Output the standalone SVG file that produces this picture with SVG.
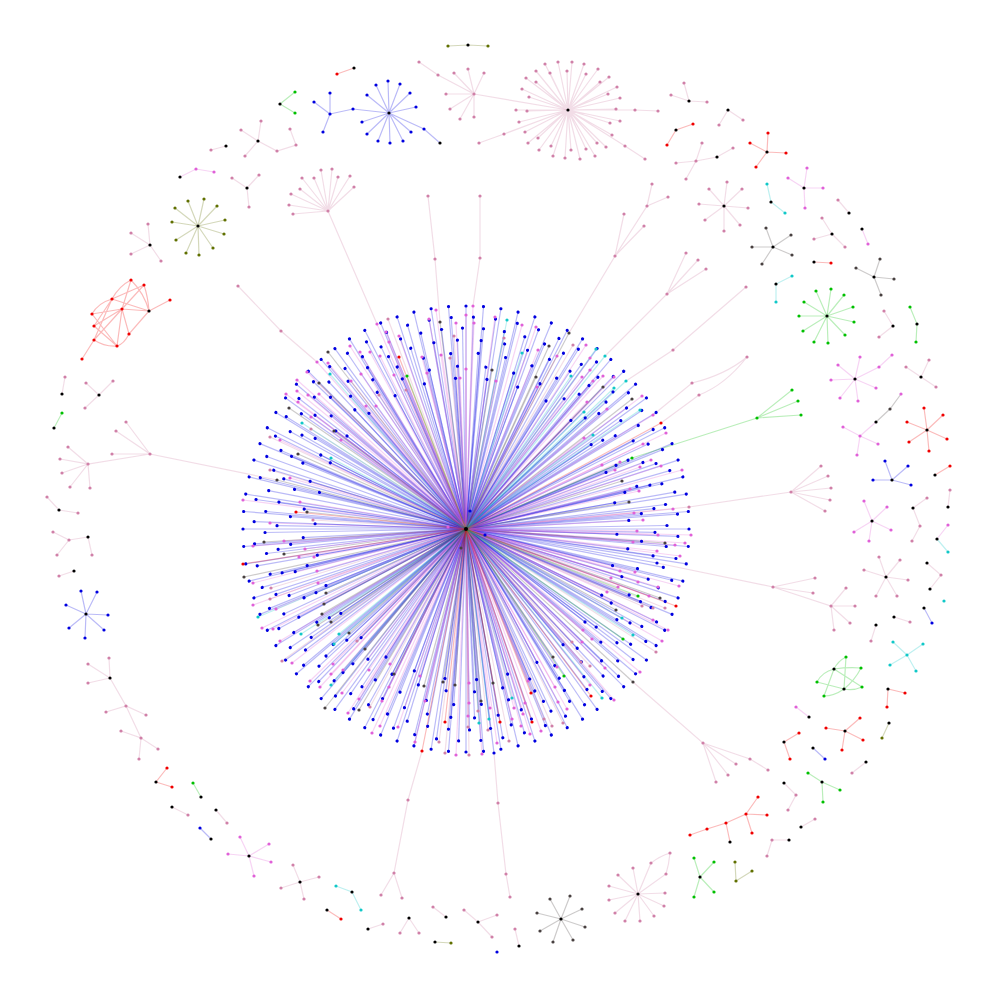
<svg xmlns="http://www.w3.org/2000/svg" width="1000" height="1000" viewBox="0 0 1000 1000">
<style>
path{fill:none;stroke-width:1.2}
circle{r:1.6px}
.eb{stroke:#0000e0;stroke-opacity:.27}.eo{stroke:#e060d8;stroke-opacity:.27}.ed{stroke:#d080a8;stroke-opacity:.27}.et{stroke:#10c8c8;stroke-opacity:.27}.eg{stroke:#484040;stroke-opacity:.27}.er{stroke:#f00000;stroke-opacity:.27}.en{stroke:#00c000;stroke-opacity:.27}.el{stroke:#607000;stroke-opacity:.27}
.nb{fill:#0000e0}.no{fill:#e060d8}.nd{fill:#d080a8}.nt{fill:#10c8c8}.ng{fill:#484040}.nr{fill:#f00000}.nn{fill:#00c000}.nl{fill:#607000}.nk{fill:#000}
</style>
<defs>
<path id="a" d="M0 0H223"/><g id="a2"><use href="#a"/><use href="#a" transform="rotate(4.5)"/></g><g id="a4"><use href="#a2"/><use href="#a2" transform="rotate(9)"/></g><g id="a8"><use href="#a4"/><use href="#a4" transform="rotate(18)"/></g><g id="a16"><use href="#a8"/><use href="#a8" transform="rotate(36)"/></g>
<path id="b" d="M0 0H212"/><g id="b2"><use href="#b"/><use href="#b" transform="rotate(6)"/></g><g id="b4"><use href="#b2"/><use href="#b2" transform="rotate(12)"/></g><g id="b12"><use href="#b4"/><use href="#b4" transform="rotate(24)"/><use href="#b4" transform="rotate(48)"/></g>
<path id="c" d="M0 0H201"/><g id="c2"><use href="#c"/><use href="#c" transform="rotate(6)"/></g><g id="c4"><use href="#c2"/><use href="#c2" transform="rotate(12)"/></g><g id="c12"><use href="#c4"/><use href="#c4" transform="rotate(24)"/><use href="#c4" transform="rotate(48)"/></g>
<path id="d" d="M0 0H189"/><g id="d2"><use href="#d"/><use href="#d" transform="rotate(7.2)"/></g><g id="d10"><use href="#d2"/><use href="#d2" transform="rotate(14.4)"/><use href="#d2" transform="rotate(28.8)"/><use href="#d2" transform="rotate(43.2)"/><use href="#d2" transform="rotate(57.6)"/></g>
<path id="e" d="M0 0H176"/><g id="e2"><use href="#e"/><use href="#e" transform="rotate(9)"/></g><g id="e4"><use href="#e2"/><use href="#e2" transform="rotate(18)"/></g><g id="e8"><use href="#e4"/><use href="#e4" transform="rotate(36)"/></g>
<path id="f" d="M0 0H163"/><g id="f2"><use href="#f"/><use href="#f" transform="rotate(10)"/></g><g id="f4"><use href="#f2"/><use href="#f2" transform="rotate(20)"/></g><g id="f12"><use href="#f4"/><use href="#f4" transform="rotate(40)"/><use href="#f4" transform="rotate(80)"/></g>
<path id="g" d="M0 0H151"/><g id="g2"><use href="#g"/><use href="#g" transform="rotate(12)"/></g><g id="g6"><use href="#g2"/><use href="#g2" transform="rotate(24)"/><use href="#g2" transform="rotate(48)"/></g>
</defs>
<g id="connectors">
<g class="eb" transform="translate(466 529)">
<use href="#a16"/><use href="#a16" transform="rotate(72)"/><use href="#a16" transform="rotate(144)"/><use href="#a16" transform="rotate(216)"/><use href="#a16" transform="rotate(288)"/>
<use href="#b12" transform="rotate(2)"/><use href="#b12" transform="rotate(74)"/><use href="#b12" transform="rotate(146)"/><use href="#b12" transform="rotate(218)"/><use href="#b12" transform="rotate(290)"/>
<use href="#c12" transform="rotate(5)"/><use href="#c12" transform="rotate(77)"/><use href="#c12" transform="rotate(149)"/><use href="#c12" transform="rotate(221)"/><use href="#c12" transform="rotate(293)"/>
<use href="#d10" transform="rotate(1)"/><use href="#d10" transform="rotate(73)"/><use href="#d10" transform="rotate(145)"/><use href="#d10" transform="rotate(217)"/><use href="#d10" transform="rotate(289)"/>
<use href="#e8" transform="rotate(4)"/><use href="#e8" transform="rotate(76)"/><use href="#e8" transform="rotate(148)"/><use href="#e8" transform="rotate(220)"/><use href="#e8" transform="rotate(292)"/>
<use href="#f12" transform="rotate(7)"/><use href="#f12" transform="rotate(127)"/><use href="#f12" transform="rotate(247)"/>
<use href="#g6" transform="rotate(2)"/><use href="#g6" transform="rotate(74)"/><use href="#g6" transform="rotate(146)"/><use href="#g6" transform="rotate(218)"/><use href="#g6" transform="rotate(290)"/>
<path d="M0 0L4-18"/><path d="M0 0L19 6"/><path d="M0 0L191 34"/><path d="M0 0L28 224"/>
</g>
<g class="eo">
<path d="M466 529L473 306"/><path d="M466 529L466 315"/><path d="M466 529L495 317"/><path d="M466 529L474 323"/><path d="M466 529L522 325"/><path d="M466 529L536 327"/><path d="M466 529L466 369"/><path d="M466 529L460 378"/><path d="M466 529L496 381"/><path d="M466 529L538 350"/><path d="M466 529L557 356"/><path d="M466 529L586 345"/><path d="M466 529L590 358"/><path d="M466 529L590 370"/><path d="M466 529L582 377"/><path d="M466 529L603 376"/><path d="M466 529L614 377"/><path d="M466 529L593 381"/><path d="M466 529L537 387"/><path d="M466 529L642 396"/><path d="M466 529L587 402"/><path d="M466 529L607 409"/><path d="M466 529L653 415"/><path d="M466 529L666 433"/><path d="M466 529L584 438"/><path d="M466 529L643 444"/><path d="M466 529L651 460"/><path d="M466 529L620 462"/><path d="M466 529L602 465"/><path d="M466 529L640 467"/><path d="M466 529L661 466"/><path d="M466 529L615 470"/><path d="M466 529L682 470"/><path d="M466 529L630 489"/><path d="M466 529L639 491"/><path d="M466 529L634 513"/><path d="M466 529L673 509"/><path d="M466 529L643 520"/>
<path d="M466 529L284 541"/><path d="M466 529L253 546"/><path d="M466 529L305 549"/><path d="M466 529L299 557"/><path d="M466 529L314 557"/><path d="M466 529L317 571"/><path d="M466 529L253 583"/><path d="M466 529L318 583"/><path d="M466 529L253 605"/><path d="M466 529L276 609"/><path d="M466 529L262 628"/><path d="M466 529L273 629"/><path d="M466 529L280 641"/><path d="M466 529L292 663"/><path d="M466 529L333 664"/><path d="M466 529L343 670"/><path d="M466 529L331 674"/><path d="M466 529L310 681"/><path d="M466 529L320 687"/><path d="M466 529L342 693"/><path d="M466 529L369 670"/><path d="M466 529L390 664"/><path d="M466 529L389 687"/><path d="M466 529L359 699"/><path d="M466 529L348 713"/><path d="M466 529L382 701"/><path d="M466 529L372 733"/><path d="M466 529L380 726"/><path d="M466 529L398 727"/><path d="M466 529L420 676"/><path d="M466 529L425 701"/><path d="M466 529L415 742"/><path d="M466 529L456 755"/>
<path d="M466 529L436 310"/><path d="M466 529L429 319"/><path d="M466 529L456 323"/><path d="M466 529L377 324"/><path d="M466 529L386 332"/><path d="M466 529L399 336"/><path d="M466 529L389 342"/><path d="M466 529L350 346"/><path d="M466 529L360 352"/><path d="M466 529L370 352"/><path d="M466 529L380 356"/><path d="M466 529L422 357"/><path d="M466 529L441 355"/><path d="M466 529L317 362"/><path d="M466 529L328 363"/><path d="M466 529L307 372"/><path d="M466 529L361 374"/><path d="M466 529L394 375"/><path d="M466 529L427 373"/><path d="M466 529L351 381"/><path d="M466 529L297 380"/><path d="M466 529L297 391"/><path d="M466 529L286 394"/><path d="M466 529L308 395"/><path d="M466 529L319 394"/><path d="M466 529L298 402"/><path d="M466 529L366 406"/><path d="M466 529L376 406"/><path d="M466 529L311 417"/><path d="M466 529L280 440"/><path d="M466 529L341 440"/><path d="M466 529L290 478"/><path d="M466 529L243 500"/><path d="M466 529L300 502"/><path d="M466 529L270 523"/><path d="M466 529L448 527"/>
<path d="M466 529L637 531"/><path d="M466 529L658 535"/><path d="M466 529L691 535"/><path d="M466 529L633 542"/><path d="M466 529L675 545"/><path d="M466 529L685 543"/><path d="M466 529L657 551"/><path d="M466 529L680 556"/><path d="M466 529L620 571"/><path d="M466 529L635 572"/><path d="M466 529L611 578"/><path d="M466 529L638 582"/><path d="M466 529L618 587"/><path d="M466 529L658 587"/><path d="M466 529L679 586"/><path d="M466 529L607 592"/><path d="M466 529L649 596"/><path d="M466 529L653 620"/><path d="M466 529L668 630"/><path d="M466 529L662 641"/><path d="M466 529L583 630"/><path d="M466 529L582 642"/><path d="M466 529L592 639"/><path d="M466 529L605 668"/><path d="M466 529L640 672"/><path d="M466 529L614 700"/><path d="M466 529L557 667"/><path d="M466 529L555 687"/><path d="M466 529L590 685"/><path d="M466 529L528 681"/><path d="M466 529L558 702"/><path d="M466 529L567 709"/><path d="M466 529L525 703"/><path d="M466 529L514 708"/><path d="M466 529L523 714"/><path d="M466 529L490 708"/><path d="M466 529L469 683"/><path d="M466 529L469 703"/><path d="M466 529L468 716"/><path d="M466 529L512 719"/><path d="M466 529L521 726"/><path d="M466 529L541 731"/><path d="M466 529L530 734"/><path d="M466 529L497 743"/><path d="M466 529L482 754"/>
<path d="M180 177L196 169 214 172"/><path d="M843 427L860 436 878 444M860 436L857 455M860 436L876 422"/><path d="M807 168L804 188 788 178 804 188 823 188 804 188 805 208"/><path d="M855 379L860 357M855 379L838 365M855 379L831 380M855 379L840 398M855 379L858 401M855 379L876 388M855 379L879 367 892 355"/><path d="M872 521L864 501M872 521L887 507M872 521L891 530M872 521L869 541M872 521L854 532"/><path d="M862 229L868 244"/><path d="M937 539L948 525"/><path d="M796 707L809 717"/><path d="M249 856L240 837M249 856L269 844M249 856L228 854M249 856L271 862M249 856L254 876"/>
</g>
<g class="ed">
<path d="M466 529L504 338"/><path d="M466 529L573 345"/><path d="M466 529L689 507"/><path d="M466 529L271 588"/><path d="M466 529L270 599"/><path d="M466 529L282 661"/><path d="M466 529L357 641"/><path d="M466 529L370 707"/><path d="M466 529L439 742"/><path d="M466 529L445 753"/><path d="M466 529L468 727"/><path d="M466 529L469 755"/><path d="M466 529L388 319"/><path d="M466 529L454 336"/><path d="M466 529L450 358"/><path d="M466 529L406 390"/><path d="M466 529L379 395"/><path d="M466 529L311 429"/><path d="M466 529L270 437"/><path d="M466 529L270 470"/><path d="M466 529L313 520"/><path d="M466 529L642 606"/><path d="M466 529L653 608"/><path d="M466 529L665 608"/><path d="M466 529L656 652"/><path d="M466 529L572 642"/><path d="M466 529L581 662"/><path d="M466 529L590 666"/><path d="M466 529L544 719"/><path d="M466 529L563 723"/><path d="M466 529L552 726"/><path d="M466 529L478 711"/><path d="M466 529L488 730"/><path d="M466 529L509 741"/>
<path d="M377 324L328 211M328 211L321 170M328 211L332 169M328 211L338 177M328 211L350 176M328 211L354 187M328 211L302 178M328 211L314 178M328 211L300 189M328 211L291 194M328 211L289 205M328 211L293 214"/>
<path d="M440 322L435 259 428 196"/><path d="M473 306L480 258 480 196"/>
<path d="M569 333L615 256 624 214 615 256 644 226 615 256 647 206 652 184 647 206 668 197"/>
<path d="M605 356L667 294 686 253 667 294 698 260 667 294 706 269"/><path d="M626 381L673 350 746 287"/>
<path d="M653 415L692 383Q725 375 747 357Q725 385 699 395L661 423"/>
<path d="M689 507L791 492 821 466 791 492 828 476 791 492 831 488 791 492 830 500 791 492 825 511"/>
<path d="M657 563L773 587 815 578 773 587 813 593 773 587 831 606 846 588 831 606 855 606 831 606 850 623 831 606 834 630"/>
<path d="M633 682L703 743 716 782 703 743 728 775 703 743 736 764 703 743 750 759 768 770"/>
<path d="M494 753L498 803 506 874 510 897"/><path d="M422 751L408 800 394 873 381 895 394 873 402 898"/>
<path d="M277 480L150 454 126 422 150 454 116 431 150 454 112 454 150 454 88 464 68 447 88 464 60 459 88 464 62 473 88 464 70 487 88 464 90 488"/>
<path d="M317 362L281 331 238 286"/>
<path d="M568 110L474 94M474 94L438 75 419 62M474 94L454 73M474 94L468 69M474 94L446 94M474 94L450 109M474 94L460 119M474 94L484 73M474 94L474 117"/>
<path d="M568 110L545 64 568 110 558 62 568 110 572 62 568 110 584 64 568 110 598 69 568 110 609 77 568 110 617 87 568 110 620 98 568 110 616 109 568 110 635 110 658 111M568 110L620 121 568 110 612 135 568 110 606 147 568 110 595 156 568 110 580 159 568 110 565 158 568 110 553 156 568 110 539 150 568 110 528 143 568 110 519 122 568 110 516 110 568 110 522 89 568 110 526 78 568 110 536 71 568 110 550 73 568 110 567 71 568 110 586 74 568 110 600 82 568 110 608 94 568 110 610 123 568 110 597 143 568 110 586 149 568 110 571 150 568 110 551 146 568 110 538 138 568 110 525 132 568 110 527 111 568 110 529 97 568 110 536 82 568 110 625 146 645 159M568 110L504 134 479 143"/>
<path d="M258 141L261 121M258 141L241 130M258 141L245 156M258 141L277 151 296 145 290 129"/><path d="M211 150L226 146"/><path d="M247 188L232 178M247 188L259 175M247 188L249 207"/>
<path d="M689 101L684 83M689 101L671 95M689 101L707 102"/><path d="M728 110L719 125M728 110L743 120"/><path d="M702 143L696 161 686 179M696 161L676 163M696 161L717 157 733 148"/>
<path d="M724 206L727 182M724 206L742 189M724 206L748 208M724 206L740 225M724 206L724 231M724 206L705 220M724 206L699 204M724 206L709 189"/>
<path d="M838 200L849 213"/><path d="M832 234L822 218M832 234L814 239M832 234L845 247"/><path d="M884 311L893 326 879 337"/><path d="M921 377L929 360M921 377L906 367M921 377L936 387"/>
<path d="M948 507L950 490"/><path d="M913 508L927 498M913 508L920 526 912 541"/>
<path d="M886 577L879 557M886 577L900 560M886 577L864 570M886 577L908 580M886 577L876 596M886 577L897 596"/><path d="M927 563L941 575 930 589"/><path d="M894 617L910 622"/><path d="M876 625L871 641"/>
<path d="M784 783L796 795 788 810"/><path d="M801 827L815 819"/><path d="M789 840L772 840 767 856"/><path d="M866 762L852 773"/>
<path d="M638 894L633 868M638 894L618 875M638 894L609 886M638 894L609 900M638 894L615 913M638 894L625 921M638 894L640 921M638 894L654 916M638 894L664 906M638 894L665 893M638 894L666 874Q669 864 670 853Q660 856 651 863L638 894"/>
<path d="M515 929L519 946"/><path d="M478 922L464 910M478 922L497 915M478 922L492 937"/><path d="M433 907L446 917"/><path d="M409 918L400 933M409 918L419 933"/><path d="M368 929L383 924"/>
<path d="M300 882L293 865M300 882L319 877M300 882L281 888M300 882L304 899"/><path d="M172 807L188 815"/><path d="M216 810L227 823"/>
<path d="M110 678L109 658M110 678L88 664M110 678L88 683M110 678L126 706 106 712 126 706 146 715 126 706 141 738 121 731 141 738 139 759 141 738 158 749"/>
<path d="M59 576L74 571"/><path d="M88 537L69 540 53 532 69 540 57 555M88 537L92 555"/><path d="M47 497L59 510 78 513"/><path d="M65 377L62 394"/><path d="M99 395L86 383M99 395L113 381M99 395L85 408"/>
<path d="M150 245L148 224M150 245L131 233M150 245L161 261M150 245L131 254"/>
</g>
<g class="et">
<path d="M466 529L507 320"/><path d="M466 529L522 353"/><path d="M466 529L596 349"/><path d="M466 529L605 356"/><path d="M466 529L571 376"/><path d="M466 529L626 381"/><path d="M466 529L614 388"/><path d="M466 529L640 410"/><path d="M466 529L584 412"/><path d="M466 529L593 435"/><path d="M466 529L258 617"/><path d="M466 529L301 634"/><path d="M466 529L339 634"/><path d="M466 529L334 644"/><path d="M466 529L331 685"/><path d="M466 529L330 374"/><path d="M466 529L302 423"/><path d="M466 529L331 458"/><path d="M466 529L622 618"/><path d="M466 529L633 635"/><path d="M466 529L602 698"/><path d="M466 529L512 698"/><path d="M466 529L489 719"/><path d="M466 529L479 723"/>
<path d="M767 184L771 202 785 213"/><path d="M792 276L776 284 776 302"/><path d="M948 552L937 539"/><path d="M907 655L893 642M907 655L923 644M907 655L890 665M907 655L916 671"/><path d="M336 886L352 892 361 910"/>
</g>
<g class="eg">
<path d="M466 529L569 333"/><path d="M466 529L549 346"/><path d="M466 529L492 370"/><path d="M466 529L536 377"/><path d="M466 529L603 387"/><path d="M466 529L632 399"/><path d="M466 529L622 481"/><path d="M466 529L629 502"/><path d="M466 529L264 542"/><path d="M466 529L284 554"/><path d="M466 529L244 577"/><path d="M466 529L326 593"/><path d="M466 529L324 604"/><path d="M466 529L322 614"/><path d="M466 529L331 622"/><path d="M466 529L318 625"/><path d="M466 529L349 633"/><path d="M466 529L365 649"/><path d="M466 529L394 674"/><path d="M466 529L325 708"/><path d="M466 529L359 710"/><path d="M466 529L424 686"/><path d="M466 529L443 682"/><path d="M466 529L455 685"/><path d="M466 529L461 548"/><path d="M466 529L440 322"/><path d="M466 529L328 352"/><path d="M466 529L319 383"/><path d="M466 529L289 408"/><path d="M466 529L334 431"/><path d="M466 529L298 454"/><path d="M466 529L277 480"/><path d="M466 529L307 512"/><path d="M466 529L665 543"/><path d="M466 529L660 598"/><path d="M466 529L616 610"/><path d="M466 529L553 657"/><path d="M466 529L633 682"/><path d="M466 529L493 683"/><path d="M466 529L481 701"/>
<path d="M773 247L766 228M773 247L791 235M773 247L792 255M773 247L762 264M773 247L752 247"/><path d="M874 277L880 259M874 277L856 268M874 277L894 279M874 277L881 295"/><path d="M901 394L890 409 876 422"/>
<path d="M561 919L550 899M561 919L570 896M561 919L582 909M561 919L585 927M561 919L573 940M561 919L553 942M561 919L540 931M561 919L537 913"/>
</g>
<g class="er">
<path d="M466 529L661 423"/><path d="M466 529L243 564"/><path d="M466 529L445 722"/><path d="M466 529L422 751"/><path d="M466 529L399 357"/><path d="M466 529L296 512"/><path d="M466 529L676 606"/><path d="M466 529L591 696"/><path d="M466 529L531 693"/><path d="M466 529L532 722"/><path d="M466 529L500 722"/>
<path d="M337 74L354 68"/><path d="M693 124L676 130 667 145"/><path d="M767 152L750 143M767 152L768 133M767 152L756 167M767 152L786 153"/><path d="M814 262L831 263"/><path d="M927 430L924 408M927 430L943 415M927 430L947 439M927 430L929 451M927 430L909 442M927 430L907 422"/><path d="M935 475L950 466"/><path d="M905 693L888 689 887 707"/><path d="M845 731L860 718M845 731L826 728M845 731L863 740M845 731L842 750"/><path d="M799 733L784 742 790 759"/><path d="M690 835L707 829 726 823 746 814 758 797M746 814L767 815M746 814L752 833M726 823L730 842"/><path d="M327 910L341 919"/><path d="M167 768L156 782 172 787"/>
<path d="M112 299Q119 286 131 280Q144 293 149 311M144 285L112 299M144 285Q148 297 149 311M112 299L149 311M122 309L149 311M122 309L131 280M122 309L144 285M92 314Q98 303 112 299M92 314L122 309M94 326L112 299M94 326L122 309M94 340L112 299M94 340L122 309M92 314L117 346M94 326L117 346M94 340Q105 347 117 346M122 309L129 334 149 311M129 334Q124 344 117 346M122 309L117 346M94 340L82 359M149 311L170 300"/>
</g>
<g class="en">
<path d="M466 529L632 458"/><path d="M466 529L407 376"/><path d="M466 529L638 596"/><path d="M466 529L623 639"/><path d="M466 529L564 676"/>
<path d="M632 458L757 418 792 390 757 418 798 401 757 418 801 415"/><path d="M295 92L280 104 295 113"/>
<path d="M827 316L831 289M827 316L816 291M827 316L844 295M827 316L853 307M827 316L854 322M827 316L845 335M827 316L828 343M827 316L814 342M827 316L803 331M827 316L799 316M827 316L804 302"/>
<path d="M910 307L917 324 916 342"/><path d="M808 773L822 782 840 790M822 782L823 802"/><path d="M700 877L694 858M700 877L714 862M700 877L714 892M700 877L694 897"/><path d="M193 783L201 797"/><path d="M62 413L54 428"/>
<path d="M834 669Q838 661 846 657M834 669Q848 667 861 668M834 669L862 687M834 669Q822 672 817 682M834 669L824 696M844 689L846 657M844 689Q855 680 861 668M844 689Q853 691 862 687M844 689L817 682M844 689Q834 696 824 696"/>
</g>
<g class="el">
<path d="M448 46L468 45 488 46"/><path d="M198 226L188 201M198 226L204 199M198 226L217 206M198 226L225 220M198 226L224 234M198 226L213 248M198 226L199 255M198 226L186 253M198 226L176 240M198 226L172 222M198 226L175 208"/>
<path d="M889 723L882 738"/><path d="M735 862L736 881 752 871"/><path d="M435 942L451 943"/>
</g>
<g class="eb">
<path d="M330 114L314 102M330 114L330 93M330 114L323 132M330 114L353 109 389 113"/><path d="M389 113L376 85M389 113L388 81M389 113L400 84M389 113L410 93M389 113L416 107M389 113L367 95M389 113L362 122M389 113L367 134M389 113L378 141M389 113L390 143M389 113L403 141M389 113L411 132M389 113L424 129 440 143"/>
<path d="M892 480L885 461M892 480L908 466M892 480L873 480M892 480L911 485"/><path d="M924 608L932 623"/><path d="M813 748L825 759"/><path d="M200 828L211 839"/><path d="M86 614L81 591M86 614L97 592M86 614L108 615M86 614L104 630M86 614L85 638M86 614L69 628M86 614L66 605"/>
</g>
</g>
<g id="nodes">
<g class="nb" id="blue-rings" transform="translate(466 529)">
<g id="a1"><circle cx="223"/></g><g id="a2n" transform="rotate(4.5)"><circle cx="223"/></g><g id="a3" transform="rotate(9)"><circle cx="223"/></g><g id="a4n" transform="rotate(13.5)"><circle cx="223"/></g><g id="a5" transform="rotate(18)"><circle cx="223"/></g><g id="a6" transform="rotate(22.5)"><circle cx="223"/></g><g id="a7" transform="rotate(27)"><circle cx="223"/></g><g id="a8n" transform="rotate(31.5)"><circle cx="223"/></g><g id="a9" transform="rotate(36)"><circle cx="223"/></g><g id="a10" transform="rotate(40.5)"><circle cx="223"/></g><g id="a11" transform="rotate(45)"><circle cx="223"/></g><g id="a12" transform="rotate(49.5)"><circle cx="223"/></g><g id="a13" transform="rotate(54)"><circle cx="223"/></g><g id="a14" transform="rotate(58.5)"><circle cx="223"/></g><g id="a15" transform="rotate(63)"><circle cx="223"/></g><g id="a16n" transform="rotate(67.5)"><circle cx="223"/></g><g id="a17" transform="rotate(72)"><circle cx="223"/></g><g id="a18" transform="rotate(76.5)"><circle cx="223"/></g><g id="a19" transform="rotate(81)"><circle cx="223"/></g><g id="a20" transform="rotate(85.5)"><circle cx="223"/></g><g id="a21" transform="rotate(90)"><circle cx="223"/></g><g id="a22" transform="rotate(94.5)"><circle cx="223"/></g><g id="a23" transform="rotate(99)"><circle cx="223"/></g><g id="a24" transform="rotate(103.5)"><circle cx="223"/></g><g id="a25" transform="rotate(108)"><circle cx="223"/></g><g id="a26" transform="rotate(112.5)"><circle cx="223"/></g><g id="a27" transform="rotate(117)"><circle cx="223"/></g><g id="a28" transform="rotate(121.5)"><circle cx="223"/></g><g id="a29" transform="rotate(126)"><circle cx="223"/></g><g id="a30" transform="rotate(130.5)"><circle cx="223"/></g><g id="a31" transform="rotate(135)"><circle cx="223"/></g><g id="a32" transform="rotate(139.5)"><circle cx="223"/></g><g id="a33" transform="rotate(144)"><circle cx="223"/></g><g id="a34" transform="rotate(148.5)"><circle cx="223"/></g><g id="a35" transform="rotate(153)"><circle cx="223"/></g><g id="a36" transform="rotate(157.5)"><circle cx="223"/></g><g id="a37" transform="rotate(162)"><circle cx="223"/></g><g id="a38" transform="rotate(166.5)"><circle cx="223"/></g><g id="a39" transform="rotate(171)"><circle cx="223"/></g><g id="a40" transform="rotate(175.5)"><circle cx="223"/></g><g id="a41" transform="rotate(180)"><circle cx="223"/></g><g id="a42" transform="rotate(184.5)"><circle cx="223"/></g><g id="a43" transform="rotate(189)"><circle cx="223"/></g><g id="a44" transform="rotate(193.5)"><circle cx="223"/></g><g id="a45" transform="rotate(198)"><circle cx="223"/></g><g id="a46" transform="rotate(202.5)"><circle cx="223"/></g><g id="a47" transform="rotate(207)"><circle cx="223"/></g><g id="a48" transform="rotate(211.5)"><circle cx="223"/></g><g id="a49" transform="rotate(216)"><circle cx="223"/></g><g id="a50" transform="rotate(220.5)"><circle cx="223"/></g><g id="a51" transform="rotate(225)"><circle cx="223"/></g><g id="a52" transform="rotate(229.5)"><circle cx="223"/></g><g id="a53" transform="rotate(234)"><circle cx="223"/></g><g id="a54" transform="rotate(238.5)"><circle cx="223"/></g><g id="a55" transform="rotate(243)"><circle cx="223"/></g><g id="a56" transform="rotate(247.5)"><circle cx="223"/></g><g id="a57" transform="rotate(252)"><circle cx="223"/></g><g id="a58" transform="rotate(256.5)"><circle cx="223"/></g><g id="a59" transform="rotate(261)"><circle cx="223"/></g><g id="a60" transform="rotate(265.5)"><circle cx="223"/></g><g id="a61" transform="rotate(270)"><circle cx="223"/></g><g id="a62" transform="rotate(274.5)"><circle cx="223"/></g><g id="a63" transform="rotate(279)"><circle cx="223"/></g><g id="a64" transform="rotate(283.5)"><circle cx="223"/></g><g id="a65" transform="rotate(288)"><circle cx="223"/></g><g id="a66" transform="rotate(292.5)"><circle cx="223"/></g><g id="a67" transform="rotate(297)"><circle cx="223"/></g><g id="a68" transform="rotate(301.5)"><circle cx="223"/></g><g id="a69" transform="rotate(306)"><circle cx="223"/></g><g id="a70" transform="rotate(310.5)"><circle cx="223"/></g><g id="a71" transform="rotate(315)"><circle cx="223"/></g><g id="a72" transform="rotate(319.5)"><circle cx="223"/></g><g id="a73" transform="rotate(324)"><circle cx="223"/></g><g id="a74" transform="rotate(328.5)"><circle cx="223"/></g><g id="a75" transform="rotate(333)"><circle cx="223"/></g><g id="a76" transform="rotate(337.5)"><circle cx="223"/></g><g id="a77" transform="rotate(342)"><circle cx="223"/></g><g id="a78" transform="rotate(346.5)"><circle cx="223"/></g><g id="a79" transform="rotate(351)"><circle cx="223"/></g><g id="a80" transform="rotate(355.5)"><circle cx="223"/></g>
<g id="q1" transform="rotate(2)"><circle cx="212"/></g><g id="q2" transform="rotate(8)"><circle cx="212"/></g><g id="q3" transform="rotate(14)"><circle cx="212"/></g><g id="q4" transform="rotate(20)"><circle cx="212"/></g><g id="q5" transform="rotate(26)"><circle cx="212"/></g><g id="q6" transform="rotate(32)"><circle cx="212"/></g><g id="q7" transform="rotate(38)"><circle cx="212"/></g><g id="q8" transform="rotate(44)"><circle cx="212"/></g><g id="q9" transform="rotate(50)"><circle cx="212"/></g><g id="q10" transform="rotate(56)"><circle cx="212"/></g><g id="q11" transform="rotate(62)"><circle cx="212"/></g><g id="q12" transform="rotate(68)"><circle cx="212"/></g><g id="q13" transform="rotate(74)"><circle cx="212"/></g><g id="q14" transform="rotate(80)"><circle cx="212"/></g><g id="q15" transform="rotate(86)"><circle cx="212"/></g><g id="q16" transform="rotate(92)"><circle cx="212"/></g><g id="q17" transform="rotate(98)"><circle cx="212"/></g><g id="q18" transform="rotate(104)"><circle cx="212"/></g><g id="q19" transform="rotate(110)"><circle cx="212"/></g><g id="q20" transform="rotate(116)"><circle cx="212"/></g><g id="q21" transform="rotate(122)"><circle cx="212"/></g><g id="q22" transform="rotate(128)"><circle cx="212"/></g><g id="q23" transform="rotate(134)"><circle cx="212"/></g><g id="q24" transform="rotate(140)"><circle cx="212"/></g><g id="q25" transform="rotate(146)"><circle cx="212"/></g><g id="q26" transform="rotate(152)"><circle cx="212"/></g><g id="q27" transform="rotate(158)"><circle cx="212"/></g><g id="q28" transform="rotate(164)"><circle cx="212"/></g><g id="q29" transform="rotate(170)"><circle cx="212"/></g><g id="q30" transform="rotate(176)"><circle cx="212"/></g><g id="q31" transform="rotate(182)"><circle cx="212"/></g><g id="q32" transform="rotate(188)"><circle cx="212"/></g><g id="q33" transform="rotate(194)"><circle cx="212"/></g><g id="q34" transform="rotate(200)"><circle cx="212"/></g><g id="q35" transform="rotate(206)"><circle cx="212"/></g><g id="q36" transform="rotate(212)"><circle cx="212"/></g><g id="q37" transform="rotate(218)"><circle cx="212"/></g><g id="q38" transform="rotate(224)"><circle cx="212"/></g><g id="q39" transform="rotate(230)"><circle cx="212"/></g><g id="q40" transform="rotate(236)"><circle cx="212"/></g><g id="q41" transform="rotate(242)"><circle cx="212"/></g><g id="q42" transform="rotate(248)"><circle cx="212"/></g><g id="q43" transform="rotate(254)"><circle cx="212"/></g><g id="q44" transform="rotate(260)"><circle cx="212"/></g><g id="q45" transform="rotate(266)"><circle cx="212"/></g><g id="q46" transform="rotate(272)"><circle cx="212"/></g><g id="q47" transform="rotate(278)"><circle cx="212"/></g><g id="q48" transform="rotate(284)"><circle cx="212"/></g><g id="q49" transform="rotate(290)"><circle cx="212"/></g><g id="q50" transform="rotate(296)"><circle cx="212"/></g><g id="q51" transform="rotate(302)"><circle cx="212"/></g><g id="q52" transform="rotate(308)"><circle cx="212"/></g><g id="q53" transform="rotate(314)"><circle cx="212"/></g><g id="q54" transform="rotate(320)"><circle cx="212"/></g><g id="q55" transform="rotate(326)"><circle cx="212"/></g><g id="q56" transform="rotate(332)"><circle cx="212"/></g><g id="q57" transform="rotate(338)"><circle cx="212"/></g><g id="q58" transform="rotate(344)"><circle cx="212"/></g><g id="q59" transform="rotate(350)"><circle cx="212"/></g><g id="q60" transform="rotate(356)"><circle cx="212"/></g>
<g id="u1" transform="rotate(5)"><circle cx="201"/></g><g id="u2" transform="rotate(11)"><circle cx="201"/></g><g id="u3" transform="rotate(17)"><circle cx="201"/></g><g id="u4" transform="rotate(23)"><circle cx="201"/></g><g id="u5" transform="rotate(29)"><circle cx="201"/></g><g id="u6" transform="rotate(35)"><circle cx="201"/></g><g id="u7" transform="rotate(41)"><circle cx="201"/></g><g id="u8" transform="rotate(47)"><circle cx="201"/></g><g id="u9" transform="rotate(53)"><circle cx="201"/></g><g id="u10" transform="rotate(59)"><circle cx="201"/></g><g id="u11" transform="rotate(65)"><circle cx="201"/></g><g id="u12" transform="rotate(71)"><circle cx="201"/></g><g id="u13" transform="rotate(77)"><circle cx="201"/></g><g id="u14" transform="rotate(83)"><circle cx="201"/></g><g id="u15" transform="rotate(89)"><circle cx="201"/></g><g id="u16" transform="rotate(95)"><circle cx="201"/></g><g id="u17" transform="rotate(101)"><circle cx="201"/></g><g id="u18" transform="rotate(107)"><circle cx="201"/></g><g id="u19" transform="rotate(113)"><circle cx="201"/></g><g id="u20" transform="rotate(119)"><circle cx="201"/></g><g id="u21" transform="rotate(125)"><circle cx="201"/></g><g id="u22" transform="rotate(131)"><circle cx="201"/></g><g id="u23" transform="rotate(137)"><circle cx="201"/></g><g id="u24" transform="rotate(143)"><circle cx="201"/></g><g id="u25" transform="rotate(149)"><circle cx="201"/></g><g id="u26" transform="rotate(155)"><circle cx="201"/></g><g id="u27" transform="rotate(161)"><circle cx="201"/></g><g id="u28" transform="rotate(167)"><circle cx="201"/></g><g id="u29" transform="rotate(173)"><circle cx="201"/></g><g id="u30" transform="rotate(179)"><circle cx="201"/></g><g id="u31" transform="rotate(185)"><circle cx="201"/></g><g id="u32" transform="rotate(191)"><circle cx="201"/></g><g id="u33" transform="rotate(197)"><circle cx="201"/></g><g id="u34" transform="rotate(203)"><circle cx="201"/></g><g id="u35" transform="rotate(209)"><circle cx="201"/></g><g id="u36" transform="rotate(215)"><circle cx="201"/></g><g id="u37" transform="rotate(221)"><circle cx="201"/></g><g id="u38" transform="rotate(227)"><circle cx="201"/></g><g id="u39" transform="rotate(233)"><circle cx="201"/></g><g id="u40" transform="rotate(239)"><circle cx="201"/></g><g id="u41" transform="rotate(245)"><circle cx="201"/></g><g id="u42" transform="rotate(251)"><circle cx="201"/></g><g id="u43" transform="rotate(257)"><circle cx="201"/></g><g id="u44" transform="rotate(263)"><circle cx="201"/></g><g id="u45" transform="rotate(269)"><circle cx="201"/></g><g id="u46" transform="rotate(275)"><circle cx="201"/></g><g id="u47" transform="rotate(281)"><circle cx="201"/></g><g id="u48" transform="rotate(287)"><circle cx="201"/></g><g id="u49" transform="rotate(293)"><circle cx="201"/></g><g id="u50" transform="rotate(299)"><circle cx="201"/></g><g id="u51" transform="rotate(305)"><circle cx="201"/></g><g id="u52" transform="rotate(311)"><circle cx="201"/></g><g id="u53" transform="rotate(317)"><circle cx="201"/></g><g id="u54" transform="rotate(323)"><circle cx="201"/></g><g id="u55" transform="rotate(329)"><circle cx="201"/></g><g id="u56" transform="rotate(335)"><circle cx="201"/></g><g id="u57" transform="rotate(341)"><circle cx="201"/></g><g id="u58" transform="rotate(347)"><circle cx="201"/></g><g id="u59" transform="rotate(353)"><circle cx="201"/></g><g id="u60" transform="rotate(359)"><circle cx="201"/></g>
<g id="v1" transform="rotate(1)"><circle cx="189"/></g><g id="v2" transform="rotate(8.2)"><circle cx="189"/></g><g id="v3" transform="rotate(15.4)"><circle cx="189"/></g><g id="v4" transform="rotate(22.6)"><circle cx="189"/></g><g id="v5" transform="rotate(29.8)"><circle cx="189"/></g><g id="v6" transform="rotate(37)"><circle cx="189"/></g><g id="v7" transform="rotate(44.2)"><circle cx="189"/></g><g id="v8" transform="rotate(51.4)"><circle cx="189"/></g><g id="v9" transform="rotate(58.6)"><circle cx="189"/></g><g id="v10" transform="rotate(65.8)"><circle cx="189"/></g><g id="v11" transform="rotate(73)"><circle cx="189"/></g><g id="v12" transform="rotate(80.2)"><circle cx="189"/></g><g id="v13" transform="rotate(87.4)"><circle cx="189"/></g><g id="v14" transform="rotate(94.6)"><circle cx="189"/></g><g id="v15" transform="rotate(101.8)"><circle cx="189"/></g><g id="v16" transform="rotate(109)"><circle cx="189"/></g><g id="v17" transform="rotate(116.2)"><circle cx="189"/></g><g id="v18" transform="rotate(123.4)"><circle cx="189"/></g><g id="v19" transform="rotate(130.6)"><circle cx="189"/></g><g id="v20" transform="rotate(137.8)"><circle cx="189"/></g><g id="v21" transform="rotate(145)"><circle cx="189"/></g><g id="v22" transform="rotate(152.2)"><circle cx="189"/></g><g id="v23" transform="rotate(159.4)"><circle cx="189"/></g><g id="v24" transform="rotate(166.6)"><circle cx="189"/></g><g id="v25" transform="rotate(173.8)"><circle cx="189"/></g><g id="v26" transform="rotate(181)"><circle cx="189"/></g><g id="v27" transform="rotate(188.2)"><circle cx="189"/></g><g id="v28" transform="rotate(195.4)"><circle cx="189"/></g><g id="v29" transform="rotate(202.6)"><circle cx="189"/></g><g id="v30" transform="rotate(209.8)"><circle cx="189"/></g><g id="v31" transform="rotate(217)"><circle cx="189"/></g><g id="v32" transform="rotate(224.2)"><circle cx="189"/></g><g id="v33" transform="rotate(231.4)"><circle cx="189"/></g><g id="v34" transform="rotate(238.6)"><circle cx="189"/></g><g id="v35" transform="rotate(245.8)"><circle cx="189"/></g><g id="v36" transform="rotate(253)"><circle cx="189"/></g><g id="v37" transform="rotate(260.2)"><circle cx="189"/></g><g id="v38" transform="rotate(267.4)"><circle cx="189"/></g><g id="v39" transform="rotate(274.6)"><circle cx="189"/></g><g id="v40" transform="rotate(281.8)"><circle cx="189"/></g><g id="v41" transform="rotate(289)"><circle cx="189"/></g><g id="v42" transform="rotate(296.2)"><circle cx="189"/></g><g id="v43" transform="rotate(303.4)"><circle cx="189"/></g><g id="v44" transform="rotate(310.6)"><circle cx="189"/></g><g id="v45" transform="rotate(317.8)"><circle cx="189"/></g><g id="v46" transform="rotate(325)"><circle cx="189"/></g><g id="v47" transform="rotate(332.2)"><circle cx="189"/></g><g id="v48" transform="rotate(339.4)"><circle cx="189"/></g><g id="v49" transform="rotate(346.6)"><circle cx="189"/></g><g id="v50" transform="rotate(353.8)"><circle cx="189"/></g>
<g id="w1" transform="rotate(4)"><circle cx="176"/></g><g id="w2" transform="rotate(13)"><circle cx="176"/></g><g id="w3" transform="rotate(22)"><circle cx="176"/></g><g id="w4" transform="rotate(31)"><circle cx="176"/></g><g id="w5" transform="rotate(40)"><circle cx="176"/></g><g id="w6" transform="rotate(49)"><circle cx="176"/></g><g id="w7" transform="rotate(58)"><circle cx="176"/></g><g id="w8" transform="rotate(67)"><circle cx="176"/></g><g id="w9" transform="rotate(76)"><circle cx="176"/></g><g id="w10" transform="rotate(85)"><circle cx="176"/></g><g id="w11" transform="rotate(94)"><circle cx="176"/></g><g id="w12" transform="rotate(103)"><circle cx="176"/></g><g id="w13" transform="rotate(112)"><circle cx="176"/></g><g id="w14" transform="rotate(121)"><circle cx="176"/></g><g id="w15" transform="rotate(130)"><circle cx="176"/></g><g id="w16" transform="rotate(139)"><circle cx="176"/></g><g id="w17" transform="rotate(148)"><circle cx="176"/></g><g id="w18" transform="rotate(157)"><circle cx="176"/></g><g id="w19" transform="rotate(166)"><circle cx="176"/></g><g id="w20" transform="rotate(175)"><circle cx="176"/></g><g id="w21" transform="rotate(184)"><circle cx="176"/></g><g id="w22" transform="rotate(193)"><circle cx="176"/></g><g id="w23" transform="rotate(202)"><circle cx="176"/></g><g id="w24" transform="rotate(211)"><circle cx="176"/></g><g id="w25" transform="rotate(220)"><circle cx="176"/></g><g id="w26" transform="rotate(229)"><circle cx="176"/></g><g id="w27" transform="rotate(238)"><circle cx="176"/></g><g id="w28" transform="rotate(247)"><circle cx="176"/></g><g id="w29" transform="rotate(256)"><circle cx="176"/></g><g id="w30" transform="rotate(265)"><circle cx="176"/></g><g id="w31" transform="rotate(274)"><circle cx="176"/></g><g id="w32" transform="rotate(283)"><circle cx="176"/></g><g id="w33" transform="rotate(292)"><circle cx="176"/></g><g id="w34" transform="rotate(301)"><circle cx="176"/></g><g id="w35" transform="rotate(310)"><circle cx="176"/></g><g id="w36" transform="rotate(319)"><circle cx="176"/></g><g id="w37" transform="rotate(328)"><circle cx="176"/></g><g id="w38" transform="rotate(337)"><circle cx="176"/></g><g id="w39" transform="rotate(346)"><circle cx="176"/></g><g id="w40" transform="rotate(355)"><circle cx="176"/></g>
<g id="x1" transform="rotate(7)"><circle cx="163"/></g><g id="x2" transform="rotate(17)"><circle cx="163"/></g><g id="x3" transform="rotate(27)"><circle cx="163"/></g><g id="x4" transform="rotate(37)"><circle cx="163"/></g><g id="x5" transform="rotate(47)"><circle cx="163"/></g><g id="x6" transform="rotate(57)"><circle cx="163"/></g><g id="x7" transform="rotate(67)"><circle cx="163"/></g><g id="x8" transform="rotate(77)"><circle cx="163"/></g><g id="x9" transform="rotate(87)"><circle cx="163"/></g><g id="x10" transform="rotate(97)"><circle cx="163"/></g><g id="x11" transform="rotate(107)"><circle cx="163"/></g><g id="x12" transform="rotate(117)"><circle cx="163"/></g><g id="x13" transform="rotate(127)"><circle cx="163"/></g><g id="x14" transform="rotate(137)"><circle cx="163"/></g><g id="x15" transform="rotate(147)"><circle cx="163"/></g><g id="x16" transform="rotate(157)"><circle cx="163"/></g><g id="x17" transform="rotate(167)"><circle cx="163"/></g><g id="x18" transform="rotate(177)"><circle cx="163"/></g><g id="x19" transform="rotate(187)"><circle cx="163"/></g><g id="x20" transform="rotate(197)"><circle cx="163"/></g><g id="x21" transform="rotate(207)"><circle cx="163"/></g><g id="x22" transform="rotate(217)"><circle cx="163"/></g><g id="x23" transform="rotate(227)"><circle cx="163"/></g><g id="x24" transform="rotate(237)"><circle cx="163"/></g><g id="x25" transform="rotate(247)"><circle cx="163"/></g><g id="x26" transform="rotate(257)"><circle cx="163"/></g><g id="x27" transform="rotate(267)"><circle cx="163"/></g><g id="x28" transform="rotate(277)"><circle cx="163"/></g><g id="x29" transform="rotate(287)"><circle cx="163"/></g><g id="x30" transform="rotate(297)"><circle cx="163"/></g><g id="x31" transform="rotate(307)"><circle cx="163"/></g><g id="x32" transform="rotate(317)"><circle cx="163"/></g><g id="x33" transform="rotate(327)"><circle cx="163"/></g><g id="x34" transform="rotate(337)"><circle cx="163"/></g><g id="x35" transform="rotate(347)"><circle cx="163"/></g><g id="x36" transform="rotate(357)"><circle cx="163"/></g>
<g id="y1" transform="rotate(2)"><circle cx="151"/></g><g id="y2" transform="rotate(14)"><circle cx="151"/></g><g id="y3" transform="rotate(26)"><circle cx="151"/></g><g id="y4" transform="rotate(38)"><circle cx="151"/></g><g id="y5" transform="rotate(50)"><circle cx="151"/></g><g id="y6" transform="rotate(62)"><circle cx="151"/></g><g id="y7" transform="rotate(74)"><circle cx="151"/></g><g id="y8" transform="rotate(86)"><circle cx="151"/></g><g id="y9" transform="rotate(98)"><circle cx="151"/></g><g id="y10" transform="rotate(110)"><circle cx="151"/></g><g id="y11" transform="rotate(122)"><circle cx="151"/></g><g id="y12" transform="rotate(134)"><circle cx="151"/></g><g id="y13" transform="rotate(146)"><circle cx="151"/></g><g id="y14" transform="rotate(158)"><circle cx="151"/></g><g id="y15" transform="rotate(170)"><circle cx="151"/></g><g id="y16" transform="rotate(182)"><circle cx="151"/></g><g id="y17" transform="rotate(194)"><circle cx="151"/></g><g id="y18" transform="rotate(206)"><circle cx="151"/></g><g id="y19" transform="rotate(218)"><circle cx="151"/></g><g id="y20" transform="rotate(230)"><circle cx="151"/></g><g id="y21" transform="rotate(242)"><circle cx="151"/></g><g id="y22" transform="rotate(254)"><circle cx="151"/></g><g id="y23" transform="rotate(266)"><circle cx="151"/></g><g id="y24" transform="rotate(278)"><circle cx="151"/></g><g id="y25" transform="rotate(290)"><circle cx="151"/></g><g id="y26" transform="rotate(302)"><circle cx="151"/></g><g id="y27" transform="rotate(314)"><circle cx="151"/></g><g id="y28" transform="rotate(326)"><circle cx="151"/></g><g id="y29" transform="rotate(338)"><circle cx="151"/></g><g id="y30" transform="rotate(350)"><circle cx="151"/></g>
</g>
<g class="nb">
<circle id="b1" cx="470" cy="511"/><circle id="b2n" cx="485" cy="535"/><circle id="b3" cx="657" cy="563"/><circle id="b4n" cx="494" cy="753"/>
<circle id="b5" cx="330" cy="114"/><circle id="b6" cx="314" cy="102"/><circle id="b7" cx="330" cy="93"/><circle id="b8" cx="323" cy="132"/><circle id="b9" cx="353" cy="109"/><circle id="b10" cx="376" cy="85"/><circle id="b11" cx="388" cy="81"/><circle id="b12n" cx="400" cy="84"/><circle id="b13" cx="410" cy="93"/><circle id="b14" cx="416" cy="107"/><circle id="b15" cx="367" cy="95"/><circle id="b16" cx="362" cy="122"/><circle id="b17" cx="367" cy="134"/><circle id="b18" cx="378" cy="141"/><circle id="b19" cx="390" cy="143"/><circle id="b20" cx="403" cy="141"/><circle id="b21" cx="411" cy="132"/><circle id="b22" cx="424" cy="129"/>
<circle id="b23" cx="885" cy="461"/><circle id="b24" cx="908" cy="466"/><circle id="b25" cx="873" cy="480"/><circle id="b26" cx="911" cy="485"/><circle id="b27" cx="932" cy="623"/><circle id="b28" cx="825" cy="759"/><circle id="b29" cx="200" cy="828"/><circle id="b30" cx="497" cy="952"/><circle id="b31" cx="81" cy="591"/><circle id="b32" cx="97" cy="592"/><circle id="b33" cx="108" cy="615"/><circle id="b34" cx="104" cy="630"/><circle id="b35" cx="85" cy="638"/><circle id="b36" cx="69" cy="628"/><circle id="b37" cx="66" cy="605"/>
</g>
<g class="no">
<circle id="p1" cx="473" cy="306"/><circle id="p2" cx="466" cy="315"/><circle id="p3" cx="495" cy="317"/><circle id="p4" cx="474" cy="323"/><circle id="p5" cx="522" cy="325"/><circle id="p6" cx="536" cy="327"/><circle id="p7" cx="466" cy="369"/><circle id="p8" cx="460" cy="378"/><circle id="p9" cx="496" cy="381"/><circle id="p10" cx="538" cy="350"/><circle id="p11" cx="557" cy="356"/><circle id="p12" cx="586" cy="345"/><circle id="p13" cx="590" cy="358"/><circle id="p14" cx="590" cy="370"/><circle id="p15" cx="582" cy="377"/><circle id="p16" cx="603" cy="376"/><circle id="p17" cx="614" cy="377"/><circle id="p18" cx="593" cy="381"/><circle id="p19" cx="537" cy="387"/><circle id="p20" cx="642" cy="396"/><circle id="p21" cx="587" cy="402"/><circle id="p22" cx="607" cy="409"/><circle id="p23" cx="653" cy="415"/><circle id="p24" cx="666" cy="433"/><circle id="p25" cx="584" cy="438"/><circle id="p26" cx="643" cy="444"/><circle id="p27" cx="651" cy="460"/><circle id="p28" cx="620" cy="462"/><circle id="p29" cx="602" cy="465"/><circle id="p30" cx="640" cy="467"/><circle id="p31" cx="661" cy="466"/><circle id="p32" cx="615" cy="470"/><circle id="p33" cx="682" cy="470"/><circle id="p34" cx="630" cy="489"/><circle id="p35" cx="639" cy="491"/><circle id="p36" cx="634" cy="513"/><circle id="p37" cx="673" cy="509"/><circle id="p38" cx="643" cy="520"/>
<circle id="p39" cx="284" cy="541"/><circle id="p40" cx="253" cy="546"/><circle id="p41" cx="305" cy="549"/><circle id="p42" cx="299" cy="557"/><circle id="p43" cx="314" cy="557"/><circle id="p44" cx="317" cy="571"/><circle id="p45" cx="253" cy="583"/><circle id="p46" cx="318" cy="583"/><circle id="p47" cx="253" cy="605"/><circle id="p48" cx="276" cy="609"/><circle id="p49" cx="262" cy="628"/><circle id="p50" cx="273" cy="629"/><circle id="p51" cx="280" cy="641"/><circle id="p52" cx="292" cy="663"/><circle id="p53" cx="333" cy="664"/><circle id="p54" cx="343" cy="670"/><circle id="p55" cx="331" cy="674"/><circle id="p56" cx="310" cy="681"/><circle id="p57" cx="320" cy="687"/><circle id="p58" cx="342" cy="693"/><circle id="p59" cx="369" cy="670"/><circle id="p60" cx="390" cy="664"/><circle id="p61" cx="389" cy="687"/><circle id="p62" cx="359" cy="699"/><circle id="p63" cx="348" cy="713"/><circle id="p64" cx="382" cy="701"/><circle id="p65" cx="372" cy="733"/><circle id="p66" cx="380" cy="726"/><circle id="p67" cx="398" cy="727"/><circle id="p68" cx="420" cy="676"/><circle id="p69" cx="425" cy="701"/><circle id="p70" cx="415" cy="742"/><circle id="p71" cx="456" cy="755"/>
<circle id="p72" cx="436" cy="310"/><circle id="p73" cx="429" cy="319"/><circle id="p74" cx="456" cy="323"/><circle id="p75" cx="377" cy="324"/><circle id="p76" cx="386" cy="332"/><circle id="p77" cx="399" cy="336"/><circle id="p78" cx="389" cy="342"/><circle id="p79" cx="350" cy="346"/><circle id="p80" cx="360" cy="352"/><circle id="p81" cx="370" cy="352"/><circle id="p82" cx="380" cy="356"/><circle id="p83" cx="422" cy="357"/><circle id="p84" cx="441" cy="355"/><circle id="p85" cx="317" cy="362"/><circle id="p86" cx="328" cy="363"/><circle id="p87" cx="307" cy="372"/><circle id="p88" cx="361" cy="374"/><circle id="p89" cx="394" cy="375"/><circle id="p90" cx="427" cy="373"/><circle id="p91" cx="351" cy="381"/><circle id="p92" cx="297" cy="380"/><circle id="p93" cx="297" cy="391"/><circle id="p94" cx="286" cy="394"/><circle id="p95" cx="308" cy="395"/><circle id="p96" cx="319" cy="394"/><circle id="p97" cx="298" cy="402"/><circle id="p98" cx="366" cy="406"/><circle id="p99" cx="376" cy="406"/><circle id="p100" cx="311" cy="417"/><circle id="p101" cx="280" cy="440"/><circle id="p102" cx="341" cy="440"/><circle id="p103" cx="290" cy="478"/><circle id="p104" cx="243" cy="500"/><circle id="p105" cx="300" cy="502"/><circle id="p106" cx="270" cy="523"/><circle id="p107" cx="448" cy="527"/>
<circle id="p108" cx="637" cy="531"/><circle id="p109" cx="658" cy="535"/><circle id="p110" cx="691" cy="535"/><circle id="p111" cx="633" cy="542"/><circle id="p112" cx="675" cy="545"/><circle id="p113" cx="685" cy="543"/><circle id="p114" cx="657" cy="551"/><circle id="p115" cx="680" cy="556"/><circle id="p116" cx="620" cy="571"/><circle id="p117" cx="635" cy="572"/><circle id="p118" cx="611" cy="578"/><circle id="p119" cx="638" cy="582"/><circle id="p120" cx="618" cy="587"/><circle id="p121" cx="658" cy="587"/><circle id="p122" cx="679" cy="586"/><circle id="p123" cx="607" cy="592"/><circle id="p124" cx="649" cy="596"/><circle id="p125" cx="653" cy="620"/><circle id="p126" cx="668" cy="630"/><circle id="p127" cx="662" cy="641"/><circle id="p128" cx="583" cy="630"/><circle id="p129" cx="582" cy="642"/><circle id="p130" cx="592" cy="639"/><circle id="p131" cx="605" cy="668"/><circle id="p132" cx="640" cy="672"/><circle id="p133" cx="614" cy="700"/><circle id="p134" cx="557" cy="667"/><circle id="p135" cx="555" cy="687"/><circle id="p136" cx="590" cy="685"/><circle id="p137" cx="528" cy="681"/><circle id="p138" cx="558" cy="702"/><circle id="p139" cx="567" cy="709"/><circle id="p140" cx="525" cy="703"/><circle id="p141" cx="514" cy="708"/><circle id="p142" cx="523" cy="714"/><circle id="p143" cx="490" cy="708"/><circle id="p144" cx="469" cy="683"/><circle id="p145" cx="469" cy="703"/><circle id="p146" cx="468" cy="716"/><circle id="p147" cx="512" cy="719"/><circle id="p148" cx="521" cy="726"/><circle id="p149" cx="541" cy="731"/><circle id="p150" cx="530" cy="734"/><circle id="p151" cx="497" cy="743"/><circle id="p152" cx="482" cy="754"/>
<circle id="p153" cx="196" cy="169"/><circle id="p154" cx="214" cy="172"/><circle id="p155" cx="843" cy="427"/><circle id="p156" cx="860" cy="436"/><circle id="p157" cx="878" cy="444"/><circle id="p158" cx="857" cy="455"/><circle id="p159" cx="901" cy="394"/><circle id="p160" cx="807" cy="168"/><circle id="p161" cx="788" cy="178"/><circle id="p162" cx="823" cy="188"/><circle id="p163" cx="805" cy="208"/><circle id="p164" cx="860" cy="357"/><circle id="p165" cx="838" cy="365"/><circle id="p166" cx="831" cy="380"/><circle id="p167" cx="840" cy="398"/><circle id="p168" cx="858" cy="401"/><circle id="p169" cx="876" cy="388"/><circle id="p170" cx="879" cy="367"/><circle id="p171" cx="892" cy="355"/><circle id="p172" cx="864" cy="501"/><circle id="p173" cx="887" cy="507"/><circle id="p174" cx="891" cy="530"/><circle id="p175" cx="869" cy="541"/><circle id="p176" cx="854" cy="532"/><circle id="p177" cx="868" cy="244"/><circle id="p178" cx="948" cy="525"/><circle id="p179" cx="796" cy="707"/><circle id="p180" cx="240" cy="837"/><circle id="p181" cx="269" cy="844"/><circle id="p182" cx="228" cy="854"/><circle id="p183" cx="271" cy="862"/><circle id="p184" cx="254" cy="876"/>
</g>
<g class="nd">
<circle id="d1" cx="504" cy="338"/><circle id="d2n" cx="573" cy="345"/><circle id="d3" cx="689" cy="507"/><circle id="d4" cx="271" cy="588"/><circle id="d5" cx="270" cy="599"/><circle id="d6" cx="282" cy="661"/><circle id="d7" cx="357" cy="641"/><circle id="d8" cx="370" cy="707"/><circle id="d9" cx="439" cy="742"/><circle id="d10n" cx="445" cy="753"/><circle id="d11" cx="468" cy="727"/><circle id="d12" cx="469" cy="755"/><circle id="d13" cx="388" cy="319"/><circle id="d14" cx="454" cy="336"/><circle id="d15" cx="450" cy="358"/><circle id="d16" cx="406" cy="390"/><circle id="d17" cx="379" cy="395"/><circle id="d18" cx="311" cy="429"/><circle id="d19" cx="270" cy="437"/><circle id="d20" cx="270" cy="470"/><circle id="d21" cx="313" cy="520"/><circle id="d22" cx="642" cy="606"/><circle id="d23" cx="653" cy="608"/><circle id="d24" cx="665" cy="608"/><circle id="d25" cx="656" cy="652"/><circle id="d26" cx="572" cy="642"/><circle id="d27" cx="581" cy="662"/><circle id="d28" cx="590" cy="666"/><circle id="d29" cx="544" cy="719"/><circle id="d30" cx="563" cy="723"/><circle id="d31" cx="552" cy="726"/><circle id="d32" cx="478" cy="711"/><circle id="d33" cx="488" cy="730"/><circle id="d34" cx="509" cy="741"/>
<circle id="d35" cx="328" cy="211"/><circle id="d36" cx="321" cy="170"/><circle id="d37" cx="332" cy="169"/><circle id="d38" cx="338" cy="177"/><circle id="d39" cx="350" cy="176"/><circle id="d40" cx="354" cy="187"/><circle id="d41" cx="302" cy="178"/><circle id="d42" cx="314" cy="178"/><circle id="d43" cx="300" cy="189"/><circle id="d44" cx="291" cy="194"/><circle id="d45" cx="289" cy="205"/><circle id="d46" cx="293" cy="214"/><circle id="d47" cx="435" cy="259"/><circle id="d48" cx="428" cy="196"/><circle id="d49" cx="480" cy="258"/><circle id="d50" cx="480" cy="196"/><circle id="d51" cx="615" cy="256"/><circle id="d52" cx="624" cy="214"/><circle id="d53" cx="644" cy="226"/><circle id="d54" cx="647" cy="206"/><circle id="d55" cx="652" cy="184"/><circle id="d56" cx="668" cy="197"/><circle id="d57" cx="667" cy="294"/><circle id="d58" cx="686" cy="253"/><circle id="d59" cx="698" cy="260"/><circle id="d60" cx="706" cy="269"/><circle id="d61" cx="673" cy="350"/><circle id="d62" cx="746" cy="287"/><circle id="d63" cx="692" cy="383"/><circle id="d64" cx="747" cy="357"/><circle id="d65" cx="699" cy="395"/><circle id="d66" cx="791" cy="492"/><circle id="d67" cx="821" cy="466"/><circle id="d68" cx="828" cy="476"/><circle id="d69" cx="831" cy="488"/><circle id="d70" cx="830" cy="500"/><circle id="d71" cx="825" cy="511"/><circle id="d72" cx="773" cy="587"/><circle id="d73" cx="815" cy="578"/><circle id="d74" cx="813" cy="593"/><circle id="d75" cx="831" cy="606"/><circle id="d76" cx="846" cy="588"/><circle id="d77" cx="855" cy="606"/><circle id="d78" cx="850" cy="623"/><circle id="d79" cx="834" cy="630"/><circle id="d80" cx="703" cy="743"/><circle id="d81" cx="716" cy="782"/><circle id="d82" cx="728" cy="775"/><circle id="d83" cx="736" cy="764"/><circle id="d84" cx="750" cy="759"/><circle id="d85" cx="768" cy="770"/><circle id="d86" cx="498" cy="803"/><circle id="d87" cx="506" cy="874"/><circle id="d88" cx="510" cy="897"/><circle id="d89" cx="408" cy="800"/><circle id="d90" cx="394" cy="873"/><circle id="d91" cx="381" cy="895"/><circle id="d92" cx="402" cy="898"/><circle id="d93" cx="150" cy="454"/><circle id="d94" cx="126" cy="422"/><circle id="d95" cx="116" cy="431"/><circle id="d96" cx="112" cy="454"/><circle id="d97" cx="88" cy="464"/><circle id="d98" cx="68" cy="447"/><circle id="d99" cx="60" cy="459"/><circle id="d100" cx="62" cy="473"/><circle id="d101" cx="70" cy="487"/><circle id="d102" cx="90" cy="488"/><circle id="d103" cx="281" cy="331"/><circle id="d104" cx="238" cy="286"/>
<circle id="d105" cx="474" cy="94"/><circle id="d106" cx="438" cy="75"/><circle id="d107" cx="419" cy="62"/><circle id="d108" cx="454" cy="73"/><circle id="d109" cx="468" cy="69"/><circle id="d110" cx="446" cy="94"/><circle id="d111" cx="450" cy="109"/><circle id="d112" cx="460" cy="119"/><circle id="d113" cx="484" cy="73"/><circle id="d114" cx="474" cy="117"/>
<circle id="d115" cx="545" cy="64"/><circle id="d116" cx="558" cy="62"/><circle id="d117" cx="572" cy="62"/><circle id="d118" cx="584" cy="64"/><circle id="d119" cx="598" cy="69"/><circle id="d120" cx="609" cy="77"/><circle id="d121" cx="617" cy="87"/><circle id="d122" cx="620" cy="98"/><circle id="d123" cx="616" cy="109"/><circle id="d124" cx="635" cy="110"/><circle id="d125" cx="658" cy="111"/><circle id="d126" cx="620" cy="121"/><circle id="d127" cx="612" cy="135"/><circle id="d128" cx="606" cy="147"/><circle id="d129" cx="595" cy="156"/><circle id="d130" cx="580" cy="159"/><circle id="d131" cx="565" cy="158"/><circle id="d132" cx="553" cy="156"/><circle id="d133" cx="539" cy="150"/><circle id="d134" cx="528" cy="143"/><circle id="d135" cx="519" cy="122"/><circle id="d136" cx="516" cy="110"/><circle id="d137" cx="522" cy="89"/><circle id="d138" cx="526" cy="78"/><circle id="d139" cx="536" cy="71"/><circle id="d140" cx="550" cy="73"/><circle id="d141" cx="567" cy="71"/><circle id="d142" cx="586" cy="74"/><circle id="d143" cx="600" cy="82"/><circle id="d144" cx="608" cy="94"/><circle id="d145" cx="610" cy="123"/><circle id="d146" cx="597" cy="143"/><circle id="d147" cx="586" cy="149"/><circle id="d148" cx="571" cy="150"/><circle id="d149" cx="551" cy="146"/><circle id="d150" cx="538" cy="138"/><circle id="d151" cx="525" cy="132"/><circle id="d152" cx="527" cy="111"/><circle id="d153" cx="529" cy="97"/><circle id="d154" cx="536" cy="82"/><circle id="d155" cx="625" cy="146"/><circle id="d156" cx="645" cy="159"/><circle id="d157" cx="504" cy="134"/><circle id="d158" cx="479" cy="143"/>
<circle id="d159" cx="261" cy="121"/><circle id="d160" cx="241" cy="130"/><circle id="d161" cx="245" cy="156"/><circle id="d162" cx="277" cy="151"/><circle id="d163" cx="296" cy="145"/><circle id="d164" cx="290" cy="129"/><circle id="d165" cx="211" cy="150"/><circle id="d166" cx="232" cy="178"/><circle id="d167" cx="259" cy="175"/><circle id="d168" cx="249" cy="207"/><circle id="d169" cx="684" cy="83"/><circle id="d170" cx="671" cy="95"/><circle id="d171" cx="707" cy="102"/><circle id="d172" cx="719" cy="125"/><circle id="d173" cx="743" cy="120"/><circle id="d174" cx="702" cy="143"/><circle id="d175" cx="696" cy="161"/><circle id="d176" cx="686" cy="179"/><circle id="d177" cx="676" cy="163"/><circle id="d178" cx="733" cy="148"/><circle id="d179" cx="727" cy="182"/><circle id="d180" cx="742" cy="189"/><circle id="d181" cx="748" cy="208"/><circle id="d182" cx="740" cy="225"/><circle id="d183" cx="724" cy="231"/><circle id="d184" cx="705" cy="220"/><circle id="d185" cx="699" cy="204"/><circle id="d186" cx="709" cy="189"/><circle id="d187" cx="838" cy="200"/><circle id="d188" cx="822" cy="218"/><circle id="d189" cx="814" cy="239"/><circle id="d190" cx="845" cy="247"/><circle id="d191" cx="884" cy="311"/><circle id="d192" cx="879" cy="337"/><circle id="d193" cx="929" cy="360"/><circle id="d194" cx="906" cy="367"/><circle id="d195" cx="936" cy="387"/><circle id="d196" cx="950" cy="490"/><circle id="d197" cx="927" cy="498"/><circle id="d198" cx="920" cy="526"/><circle id="d199" cx="912" cy="541"/><circle id="d200" cx="879" cy="557"/><circle id="d201" cx="900" cy="560"/><circle id="d202" cx="864" cy="570"/><circle id="d203" cx="908" cy="580"/><circle id="d204" cx="876" cy="596"/><circle id="d205" cx="897" cy="596"/><circle id="d206" cx="941" cy="575"/><circle id="d207" cx="910" cy="622"/><circle id="d208" cx="871" cy="641"/><circle id="d209" cx="796" cy="795"/><circle id="d210" cx="788" cy="810"/><circle id="d211" cx="815" cy="819"/><circle id="d212" cx="772" cy="840"/><circle id="d213" cx="767" cy="856"/><circle id="d214" cx="852" cy="773"/>
<circle id="d215" cx="633" cy="868"/><circle id="d216" cx="618" cy="875"/><circle id="d217" cx="609" cy="886"/><circle id="d218" cx="609" cy="900"/><circle id="d219" cx="615" cy="913"/><circle id="d220" cx="625" cy="921"/><circle id="d221" cx="640" cy="921"/><circle id="d222" cx="654" cy="916"/><circle id="d223" cx="664" cy="906"/><circle id="d224" cx="665" cy="893"/><circle id="d225" cx="666" cy="874"/><circle id="d226" cx="670" cy="853"/><circle id="d227" cx="651" cy="863"/><circle id="d228" cx="515" cy="929"/><circle id="d229" cx="464" cy="910"/><circle id="d230" cx="497" cy="915"/><circle id="d231" cx="492" cy="937"/><circle id="d232" cx="433" cy="907"/><circle id="d233" cx="400" cy="933"/><circle id="d234" cx="419" cy="933"/><circle id="d235" cx="383" cy="924"/><circle id="d236" cx="293" cy="865"/><circle id="d237" cx="319" cy="877"/><circle id="d238" cx="281" cy="888"/><circle id="d239" cx="304" cy="899"/><circle id="d240" cx="188" cy="815"/><circle id="d241" cx="227" cy="823"/><circle id="d242" cx="109" cy="658"/><circle id="d243" cx="88" cy="664"/><circle id="d244" cx="88" cy="683"/><circle id="d245" cx="126" cy="706"/><circle id="d246" cx="106" cy="712"/><circle id="d247" cx="146" cy="715"/><circle id="d248" cx="141" cy="738"/><circle id="d249" cx="121" cy="731"/><circle id="d250" cx="139" cy="759"/><circle id="d251" cx="158" cy="749"/><circle id="d252" cx="59" cy="576"/><circle id="d253" cx="69" cy="540"/><circle id="d254" cx="53" cy="532"/><circle id="d255" cx="57" cy="555"/><circle id="d256" cx="92" cy="555"/><circle id="d257" cx="47" cy="497"/><circle id="d258" cx="78" cy="513"/><circle id="d259" cx="65" cy="377"/><circle id="d260" cx="86" cy="383"/><circle id="d261" cx="113" cy="381"/><circle id="d262" cx="85" cy="408"/><circle id="d263" cx="148" cy="224"/><circle id="d264" cx="131" cy="233"/><circle id="d265" cx="161" cy="261"/><circle id="d266" cx="131" cy="254"/>
</g>
<g class="nt">
<circle id="t1" cx="507" cy="320"/><circle id="t2" cx="522" cy="353"/><circle id="t3" cx="596" cy="349"/><circle id="t4" cx="605" cy="356"/><circle id="t5" cx="571" cy="376"/><circle id="t6" cx="626" cy="381"/><circle id="t7" cx="614" cy="388"/><circle id="t8" cx="640" cy="410"/><circle id="t9" cx="584" cy="412"/><circle id="t10" cx="593" cy="435"/><circle id="t11" cx="258" cy="617"/><circle id="t12" cx="301" cy="634"/><circle id="t13" cx="339" cy="634"/><circle id="t14" cx="334" cy="644"/><circle id="t15" cx="331" cy="685"/><circle id="t16" cx="330" cy="374"/><circle id="t17" cx="302" cy="423"/><circle id="t18" cx="331" cy="458"/><circle id="t19" cx="622" cy="618"/><circle id="t20" cx="633" cy="635"/><circle id="t21" cx="602" cy="698"/><circle id="t22" cx="512" cy="698"/><circle id="t23" cx="489" cy="719"/><circle id="t24" cx="479" cy="723"/><circle id="t25" cx="767" cy="184"/><circle id="t26" cx="785" cy="213"/><circle id="t27" cx="792" cy="276"/><circle id="t28" cx="776" cy="302"/><circle id="t29" cx="948" cy="552"/><circle id="t30" cx="944" cy="601"/><circle id="t31" cx="907" cy="655"/><circle id="t32" cx="893" cy="642"/><circle id="t33" cx="923" cy="644"/><circle id="t34" cx="890" cy="665"/><circle id="t35" cx="916" cy="671"/><circle id="t36" cx="336" cy="886"/><circle id="t37" cx="361" cy="910"/>
</g>
<g class="ng">
<circle id="g1" cx="569" cy="333"/><circle id="g2n" cx="549" cy="346"/><circle id="g3" cx="492" cy="370"/><circle id="g4" cx="536" cy="377"/><circle id="g5" cx="603" cy="387"/><circle id="g6n" cx="632" cy="399"/><circle id="g7" cx="622" cy="481"/><circle id="g8" cx="629" cy="502"/><circle id="g9" cx="264" cy="542"/><circle id="g10" cx="284" cy="554"/><circle id="g11" cx="244" cy="577"/><circle id="g12" cx="326" cy="593"/><circle id="g13" cx="324" cy="604"/><circle id="g14" cx="322" cy="614"/><circle id="g15" cx="331" cy="622"/><circle id="g16" cx="318" cy="625"/><circle id="g17" cx="349" cy="633"/><circle id="g18" cx="365" cy="649"/><circle id="g19" cx="394" cy="674"/><circle id="g20" cx="325" cy="708"/><circle id="g21" cx="359" cy="710"/><circle id="g22" cx="424" cy="686"/><circle id="g23" cx="443" cy="682"/><circle id="g24" cx="455" cy="685"/><circle id="g25" cx="461" cy="548"/><circle id="g26" cx="440" cy="322"/><circle id="g27" cx="328" cy="352"/><circle id="g28" cx="319" cy="383"/><circle id="g29" cx="289" cy="408"/><circle id="g30" cx="334" cy="431"/><circle id="g31" cx="298" cy="454"/><circle id="g32" cx="277" cy="480"/><circle id="g33" cx="307" cy="512"/><circle id="g34" cx="665" cy="543"/><circle id="g35" cx="660" cy="598"/><circle id="g36" cx="616" cy="610"/><circle id="g37" cx="553" cy="657"/><circle id="g38" cx="633" cy="682"/><circle id="g39" cx="493" cy="683"/><circle id="g40" cx="481" cy="701"/><circle id="g41" cx="766" cy="228"/><circle id="g42" cx="791" cy="235"/><circle id="g43" cx="792" cy="255"/><circle id="g44" cx="762" cy="264"/><circle id="g45" cx="752" cy="247"/><circle id="g46" cx="880" cy="259"/><circle id="g47" cx="856" cy="268"/><circle id="g48" cx="894" cy="279"/><circle id="g49" cx="881" cy="295"/><circle id="g50" cx="890" cy="409"/><circle id="g51" cx="550" cy="899"/><circle id="g52" cx="570" cy="896"/><circle id="g53" cx="582" cy="909"/><circle id="g54" cx="585" cy="927"/><circle id="g55" cx="573" cy="940"/><circle id="g56" cx="553" cy="942"/><circle id="g57" cx="540" cy="931"/><circle id="g58" cx="537" cy="913"/>
</g>
<g class="nr">
<circle id="r1" cx="661" cy="423"/><circle id="r2" cx="243" cy="564"/><circle id="r3" cx="445" cy="722"/><circle id="r4" cx="422" cy="751"/><circle id="r5" cx="399" cy="357"/><circle id="r6" cx="296" cy="512"/><circle id="r7" cx="676" cy="606"/><circle id="r8" cx="591" cy="696"/><circle id="r9" cx="531" cy="693"/><circle id="r10" cx="532" cy="722"/><circle id="r11" cx="500" cy="722"/><circle id="r12" cx="337" cy="74"/><circle id="r13" cx="693" cy="124"/><circle id="r14" cx="667" cy="145"/><circle id="r15" cx="750" cy="143"/><circle id="r16" cx="768" cy="133"/><circle id="r17" cx="756" cy="167"/><circle id="r18" cx="786" cy="153"/><circle id="r19" cx="831" cy="263"/><circle id="r20" cx="924" cy="408"/><circle id="r21" cx="943" cy="415"/><circle id="r22" cx="947" cy="439"/><circle id="r23" cx="929" cy="451"/><circle id="r24" cx="909" cy="442"/><circle id="r25" cx="907" cy="422"/><circle id="r26" cx="950" cy="466"/><circle id="r27" cx="905" cy="693"/><circle id="r28" cx="887" cy="707"/><circle id="r29" cx="860" cy="718"/><circle id="r30" cx="826" cy="728"/><circle id="r31" cx="863" cy="740"/><circle id="r32" cx="842" cy="750"/><circle id="r33" cx="799" cy="733"/><circle id="r34" cx="790" cy="759"/><circle id="r35" cx="690" cy="835"/><circle id="r36" cx="707" cy="829"/><circle id="r37" cx="726" cy="823"/><circle id="r38" cx="746" cy="814"/><circle id="r39" cx="758" cy="797"/><circle id="r40" cx="767" cy="815"/><circle id="r41" cx="752" cy="833"/><circle id="r42" cx="341" cy="919"/><circle id="r43" cx="167" cy="768"/><circle id="r44" cx="172" cy="787"/><circle id="r45" cx="170" cy="300"/><circle id="r46" cx="131" cy="280"/><circle id="r47" cx="144" cy="285"/><circle id="r48" cx="112" cy="299"/><circle id="r49" cx="122" cy="309"/><circle id="r50" cx="92" cy="314"/><circle id="r51" cx="94" cy="326"/><circle id="r52" cx="94" cy="340"/><circle id="r53" cx="117" cy="346"/><circle id="r54" cx="129" cy="334"/><circle id="r55" cx="82" cy="359"/>
</g>
<g class="nn">
<circle id="e1" cx="632" cy="458"/><circle id="e2n" cx="407" cy="376"/><circle id="e3" cx="638" cy="596"/><circle id="e4n" cx="623" cy="639"/><circle id="e5" cx="564" cy="676"/><circle id="e6" cx="757" cy="418"/><circle id="e7" cx="792" cy="390"/><circle id="e8n" cx="798" cy="401"/><circle id="e9" cx="801" cy="415"/><circle id="e10" cx="295" cy="92"/><circle id="e11" cx="295" cy="113"/><circle id="e12" cx="831" cy="289"/><circle id="e13" cx="816" cy="291"/><circle id="e14" cx="844" cy="295"/><circle id="e15" cx="853" cy="307"/><circle id="e16" cx="854" cy="322"/><circle id="e17" cx="845" cy="335"/><circle id="e18" cx="828" cy="343"/><circle id="e19" cx="814" cy="342"/><circle id="e20" cx="803" cy="331"/><circle id="e21" cx="799" cy="316"/><circle id="e22" cx="804" cy="302"/><circle id="e23" cx="910" cy="307"/><circle id="e24" cx="916" cy="342"/><circle id="e25" cx="808" cy="773"/><circle id="e26" cx="840" cy="790"/><circle id="e27" cx="823" cy="802"/><circle id="e28" cx="694" cy="858"/><circle id="e29" cx="714" cy="862"/><circle id="e30" cx="714" cy="892"/><circle id="e31" cx="694" cy="897"/><circle id="e32" cx="193" cy="783"/><circle id="e33" cx="62" cy="413"/><circle id="e34" cx="846" cy="657"/><circle id="e35" cx="861" cy="668"/><circle id="e36" cx="862" cy="687"/><circle id="e37" cx="817" cy="682"/><circle id="e38" cx="824" cy="696"/>
</g>
<g class="nl">
<circle id="l1" cx="448" cy="46"/><circle id="l2" cx="488" cy="46"/><circle id="l3" cx="188" cy="201"/><circle id="l4" cx="204" cy="199"/><circle id="l5" cx="217" cy="206"/><circle id="l6" cx="225" cy="220"/><circle id="l7" cx="224" cy="234"/><circle id="l8" cx="213" cy="248"/><circle id="l9" cx="199" cy="255"/><circle id="l10" cx="186" cy="253"/><circle id="l11" cx="176" cy="240"/><circle id="l12" cx="172" cy="222"/><circle id="l13" cx="175" cy="208"/><circle id="l14" cx="882" cy="738"/><circle id="l15" cx="735" cy="862"/><circle id="l16" cx="736" cy="881"/><circle id="l17" cx="752" cy="871"/><circle id="l18" cx="451" cy="943"/>
</g>
<g class="nk">
<circle id="hub" cx="466" cy="529" style="r:2px"/><circle id="k1" cx="468" cy="45"/><circle id="k2" cx="354" cy="68"/><circle id="k3" cx="280" cy="104"/><circle id="k4" cx="389" cy="113"/><circle id="k5" cx="440" cy="143"/><circle id="k6" cx="258" cy="141"/><circle id="k7" cx="226" cy="146"/><circle id="k8" cx="180" cy="177"/><circle id="k9" cx="247" cy="188"/><circle id="k10" cx="198" cy="226"/><circle id="k11" cx="568" cy="110"/><circle id="k12" cx="689" cy="101"/><circle id="k13" cx="728" cy="110"/><circle id="k14" cx="676" cy="130"/><circle id="k15" cx="717" cy="157"/><circle id="k16" cx="767" cy="152"/><circle id="k17" cx="724" cy="206"/><circle id="k18" cx="804" cy="188"/><circle id="k19" cx="771" cy="202"/><circle id="k20" cx="849" cy="213"/><circle id="k21" cx="832" cy="234"/><circle id="k22" cx="862" cy="229"/><circle id="k23" cx="773" cy="247"/><circle id="k24" cx="814" cy="262"/><circle id="k25" cx="874" cy="277"/><circle id="k26" cx="776" cy="284"/><circle id="k27" cx="827" cy="316"/><circle id="k28" cx="893" cy="326"/><circle id="k29" cx="917" cy="324"/><circle id="k30" cx="855" cy="379"/><circle id="k31" cx="921" cy="377"/><circle id="k32" cx="876" cy="422"/><circle id="k33" cx="927" cy="430"/><circle id="k34" cx="892" cy="480"/><circle id="k35" cx="935" cy="475"/><circle id="k36" cx="872" cy="521"/><circle id="k37" cx="913" cy="508"/><circle id="k38" cx="948" cy="507"/><circle id="k39" cx="937" cy="539"/><circle id="k40" cx="886" cy="577"/><circle id="k41" cx="927" cy="563"/><circle id="k42" cx="930" cy="589"/><circle id="k43" cx="924" cy="608"/><circle id="k44" cx="894" cy="617"/><circle id="k45" cx="876" cy="625"/><circle id="k46" cx="834" cy="669"/><circle id="k47" cx="844" cy="689"/><circle id="k48" cx="888" cy="689"/><circle id="k49" cx="809" cy="717"/><circle id="k50" cx="845" cy="731"/><circle id="k51" cx="889" cy="723"/><circle id="k52" cx="784" cy="742"/><circle id="k53" cx="813" cy="748"/><circle id="k54" cx="866" cy="762"/><circle id="k55" cx="784" cy="783"/><circle id="k56" cx="822" cy="782"/><circle id="k57" cx="801" cy="827"/><circle id="k58" cx="789" cy="840"/><circle id="k59" cx="730" cy="842"/><circle id="k60" cx="700" cy="877"/><circle id="k61" cx="638" cy="894"/><circle id="k62" cx="561" cy="919"/><circle id="k63" cx="519" cy="946"/><circle id="k64" cx="478" cy="922"/><circle id="k65" cx="446" cy="917"/><circle id="k66" cx="435" cy="942"/><circle id="k67" cx="409" cy="918"/><circle id="k68" cx="368" cy="929"/><circle id="k69" cx="327" cy="910"/><circle id="k70" cx="352" cy="892"/><circle id="k71" cx="300" cy="882"/><circle id="k72" cx="249" cy="856"/><circle id="k73" cx="211" cy="839"/><circle id="k74" cx="172" cy="807"/><circle id="k75" cx="216" cy="810"/><circle id="k76" cx="201" cy="797"/><circle id="k77" cx="156" cy="782"/><circle id="k78" cx="110" cy="678"/><circle id="k79" cx="86" cy="614"/><circle id="k80" cx="74" cy="571"/><circle id="k81" cx="88" cy="537"/><circle id="k82" cx="59" cy="510"/><circle id="k83" cx="62" cy="394"/><circle id="k84" cx="54" cy="428"/><circle id="k85" cx="99" cy="395"/><circle id="k86" cx="149" cy="311"/><circle id="k87" cx="150" cy="245"/>
</g>
</g>
</svg>
